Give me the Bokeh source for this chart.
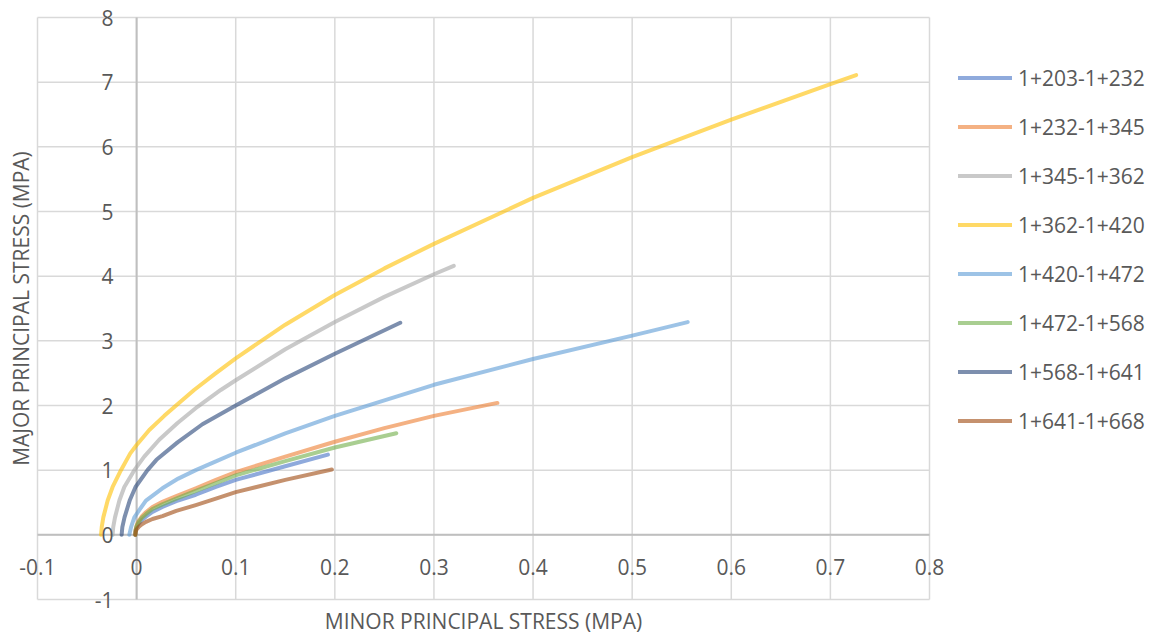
import math
from bokeh.plotting import figure
from bokeh.models import (Range1d, Legend, LegendItem, LabelSet, Label,
                          ColumnDataSource)
from bokeh.core.properties import value
from bokeh.embed import file_html
from bokeh.resources import INLINE

# ---------------- data ----------------
series_names = ["1+203-1+232", "1+232-1+345", "1+345-1+362", "1+362-1+420",
                "1+420-1+472", "1+472-1+568", "1+568-1+641", "1+641-1+668"]
series_colors = ["#4472C4", "#ED7D31", "#A5A5A5", "#FFC000",
                 "#5B9BD5", "#70AD47", "#264478", "#9E480E"]

x_203 = [-0.0013, -0.001, 0.0, 0.002, 0.005, 0.0094, 0.016, 0.026, 0.04, 0.0597, 0.08, 0.1, 0.15, 0.193]
y_203 = [0.0, 0.065, 0.115, 0.17, 0.225, 0.28, 0.355, 0.43, 0.52, 0.62, 0.74, 0.85, 1.06, 1.24]

x_232 = [-0.0013, -0.001, 0.0, 0.002, 0.005, 0.0094, 0.016, 0.026, 0.04, 0.0597, 0.08, 0.1,
         0.15, 0.2, 0.25, 0.3, 0.364]
y_232 = [0.0, 0.08, 0.145, 0.21, 0.28, 0.35, 0.43, 0.51, 0.60, 0.72, 0.85, 0.97,
         1.21, 1.44, 1.65, 1.84, 2.04]

x_345 = [-0.0242, -0.0236, -0.0218, -0.0174, -0.0124, -0.0023, 0.0077, 0.0228, 0.0413,
         0.0614, 0.0849, 0.1, 0.15, 0.2, 0.25, 0.3, 0.32]
y_345 = [0.0, 0.12, 0.27, 0.53, 0.74, 1.0, 1.21, 1.47, 1.73,
         1.98, 2.24, 2.39, 2.87, 3.29, 3.68, 4.03, 4.16]

x_362 = [-0.0359, -0.0352, -0.0336, -0.0292, -0.0242, -0.0158, -0.0064, 0.0, 0.0128,
         0.0279, 0.0413, 0.058, 0.08, 0.1, 0.15, 0.2, 0.25, 0.3, 0.4, 0.5, 0.6, 0.7, 0.726]
y_362 = [0.0, 0.12, 0.27, 0.53, 0.74, 1.0, 1.26, 1.39, 1.62,
         1.84, 2.02, 2.24, 2.50, 2.73, 3.25, 3.71, 4.12, 4.50, 5.21, 5.84, 6.42, 6.97, 7.11]

x_420 = [-0.0074, -0.0056, -0.0023, 0.0035, 0.0094, 0.026, 0.042, 0.0597, 0.08, 0.1,
         0.15, 0.2, 0.3, 0.4, 0.5, 0.556]
y_420 = [0.0, 0.12, 0.27, 0.40, 0.53, 0.72, 0.87, 1.0, 1.135, 1.27,
         1.57, 1.84, 2.32, 2.72, 3.08, 3.29]

x_472 = [-0.0013, -0.001, 0.0, 0.002, 0.005, 0.0094, 0.016, 0.026, 0.04, 0.0597, 0.08, 0.1,
         0.15, 0.2, 0.262]
y_472 = [0.0, 0.075, 0.135, 0.195, 0.26, 0.32, 0.40, 0.47, 0.56, 0.68, 0.80, 0.92,
         1.14, 1.35, 1.57]

x_568 = [-0.0151, -0.0144, -0.0122, -0.007, -0.0011, 0.011, 0.02, 0.0413,
         0.0664, 0.1, 0.15, 0.2, 0.266]
y_568 = [0.0, 0.12, 0.27, 0.53, 0.74, 1.0, 1.16, 1.43,
         1.71, 2.0, 2.42, 2.80, 3.28]

x_641 = [-0.0013, -0.001, 0.0, 0.002, 0.005, 0.0094, 0.016, 0.026, 0.04, 0.0597, 0.08, 0.1, 0.15, 0.197]
y_641 = [0.0, 0.045, 0.085, 0.12, 0.16, 0.20, 0.245, 0.29, 0.37, 0.46, 0.56, 0.66, 0.85, 1.01]

series_x = [x_203, x_232, x_345, x_362, x_420, x_472, x_568, x_641]
series_y = [y_203, y_232, y_345, y_362, y_420, y_472, y_568, y_641]

x_ticks = [-0.1, 0.0, 0.1, 0.2, 0.3, 0.4, 0.5, 0.6, 0.7, 0.8]
x_tick_labels = ["-0.1", "0", "0.1", "0.2", "0.3", "0.4", "0.5", "0.6", "0.7", "0.8"]
y_ticks = [-1, 0, 1, 2, 3, 4, 5, 6, 7, 8]
y_tick_labels = ["-1", "0", "1", "2", "3", "4", "5", "6", "7", "8"]

x_title = "MINOR PRINCIPAL STRESS (MPA)"
y_title = "MAJOR PRINCIPAL STRESS (MPA)"

# ---------------- layout (pixels) ----------------
W, H = 1154, 633
PL, PR, PT, PB = 37, 929, 17, 599          # plot-area edges in the canvas
X0, X1, Y0, Y1 = -0.1, 0.8, -1, 8          # axis bounds
sx = (PR - PL) / (X1 - X0)
sy = (PB - PT) / (Y1 - Y0)
xr = Range1d(X0 - PL / sx, X1 + (W - PR) / sx)
yr = Range1d(Y0 - (H - PB) / sy, Y1 + PT / sy)

FONT = "Open Sans"
TXT = "#595959"
GRID = "#D9D9D9"
AXIS = "#BFBFBF"
FS = "21px"

p = figure(width=W, height=H, x_range=xr, y_range=yr,
           output_backend="svg", toolbar_location=None,
           min_border=0, x_axis_type=None, y_axis_type=None)
p.background_fill_color = "white"
p.border_fill_color = "white"
p.outline_line_color = None

# gridlines over the plot area
p.segment(x0=x_ticks, x1=x_ticks, y0=[Y0] * len(x_ticks), y1=[Y1] * len(x_ticks),
          line_color=GRID, line_width=1.5)
p.segment(x0=[X0] * len(y_ticks), x1=[X1] * len(y_ticks), y0=y_ticks, y1=y_ticks,
          line_color=GRID, line_width=1.5)
# axes crossing at zero
p.segment(x0=[0, X0], x1=[0, X1], y0=[Y0, 0], y1=[Y1, 0],
          line_color=AXIS, line_width=2)

# tick labels
xsrc = ColumnDataSource(dict(x=x_ticks, y=[0] * len(x_ticks), t=x_tick_labels))
ysrc = ColumnDataSource(dict(x=[0] * len(y_ticks), y=y_ticks, t=y_tick_labels))
p.add_layout(LabelSet(x="x", y="y", text="t", source=xsrc, y_offset=-32,
                      text_align="center", text_baseline="middle",
                      text_font=value(FONT), text_font_size=value(FS),
                      text_color=TXT))
p.add_layout(LabelSet(x="x", y="y", text="t", source=ysrc, x_offset=-23,
                      text_align="right", text_baseline="middle",
                      text_font=value(FONT), text_font_size=value(FS),
                      text_color=TXT))

items = []
for name, col, xs, ys in zip(series_names, series_colors, series_x, series_y):
    r = p.line(xs, ys, line_color=col, line_alpha=0.6, line_width=4,
               line_cap="round", line_join="round")
    items.append(LegendItem(label=name, renderers=[r]))

legend = Legend(items=items, location=(958, 188),
                glyph_width=54, glyph_height=49, label_height=49,
                spacing=0, padding=0, margin=0, label_standoff=6,
                label_text_font=FONT, label_text_font_size=FS,
                label_text_color=TXT, border_line_color=None,
                background_fill_alpha=0)
p.add_layout(legend)

# axis titles
p.add_layout(Label(x=(X0 + X1) / 2, y=Y0, y_offset=-21, text=x_title,
                   text_align="center", text_baseline="middle",
                   text_font=FONT, text_font_size=FS, text_color=TXT))
p.add_layout(Label(x=X0, y=(Y0 + Y1) / 2, x_offset=-17, text=y_title,
                   angle=math.pi / 2, text_align="center", text_baseline="middle",
                   text_font=FONT, text_font_size=FS, text_color=TXT))

open("out.html", "w").write(file_html(p, INLINE))
